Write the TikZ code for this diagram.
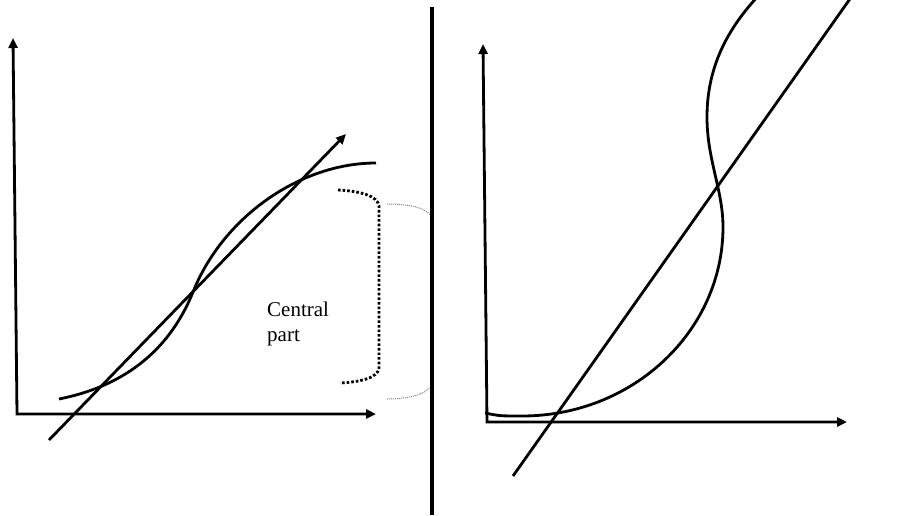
\documentclass[tikz,border=0pt]{standalone}
\usepackage{fontspec}
\setmainfont{Liberation Serif}
\usetikzlibrary{arrows.meta}
\begin{document}
\begin{tikzpicture}[x=1pt,y=-1pt,
  thick line/.style={line width=2.8pt, line cap=butt},
  axes/.style={thick line, {Triangle[length=10pt,width=9pt]}-{Triangle[length=10pt,width=9pt]}},
  arrowline/.style={thick line, -{Triangle[length=10pt,width=9pt]}},
  bracket/.style={line width=2.8pt, dash pattern=on 2.6pt off 2pt},
  faint/.style={line width=1pt, gray, dash pattern=on 1pt off 1pt},
  label/.style={font=\fontsize{21}{25}\selectfont, align=left, inner sep=0pt, anchor=north west}]
\useasboundingbox (0,0) rectangle (924,515);
\clip (0,0) rectangle (924,515);
% left panel
\draw[axes] (13,38) -- (17,414) -- (376,414);
\draw[arrowline] (49,440) -- (346,134);
\draw[thick line] (59,399) .. controls (120,387) and (168,354) .. (193,292)
  .. controls (223,217) and (300,163) .. (376,163);
\draw[bracket] (338,190) .. controls (360,191) and (378,196) .. (379,206) -- (379,368)
  .. controls (378,378) and (360,382) .. (340,383);
\node[label] (central) at (267,302) {Central\\part};
\draw[faint] (387,204) .. controls (410,204) and (425,208) .. (430,215);
\draw[faint] (387,399) .. controls (410,399) and (425,394) .. (430,387);
% divider
\draw[line width=3.2pt] (432,7) -- (432,515);
% right panel
\draw[axes] (483,44) -- (487,422) -- (847,422);
\draw[thick line] (513,476) -- (852,-4);
\draw[thick line] (485,413) .. controls (500,416) .. (522,416)
  .. controls (633,416) and (723,331) .. (723,227)
  .. controls (723,190) and (707,160) .. (707,117)
  .. controls (707,70) and (725,30) .. (762,-8);
\end{tikzpicture}
\end{document}
